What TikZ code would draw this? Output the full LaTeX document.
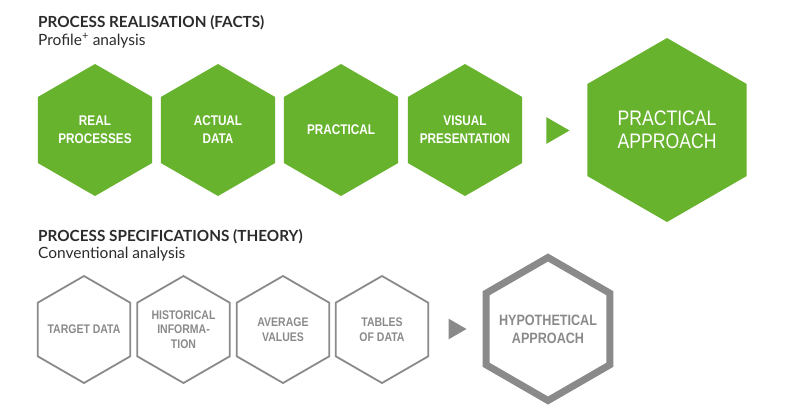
\documentclass[tikz,border=0pt]{standalone}
\usepackage{fontspec}
\setmainfont{Lato}
\newfontfamily\hexfont[FakeStretch=0.84]{Liberation Sans}
\usepackage{tikz}
\usetikzlibrary{shapes.geometric}
\definecolor{factgreen}{HTML}{67B32E}
\definecolor{theorygray}{HTML}{8A8A8A}
\definecolor{headgray}{HTML}{2B2B2B}

\begin{document}
\begin{tikzpicture}[
  x=1pt, y=-1pt,
  every node/.style={inner sep=0pt},
  heading/.style={anchor=base west, text=headgray,
    font=\fontsize{15.3}{17}\selectfont\bfseries},
  subheading/.style={anchor=base west, text=headgray,
    font=\fontsize{15.5}{17}\selectfont},
  hexbase/.style={regular polygon, regular polygon sides=6,
    shape border rotate=30, align=center, inner sep=-25pt},
  facthex/.style={hexbase, fill=factgreen, text=white, minimum size=132pt,
    font=\hexfont\fontsize{14}{18}\selectfont\bfseries},
  bigfacthex/.style={hexbase, fill=factgreen, text=white, minimum size=184pt,
    font=\hexfont\fontsize{21}{23}\selectfont},
  theoryhex/.style={hexbase, draw=theorygray, line width=1.8pt,
    text=theorygray, minimum size=107pt,
    font=\hexfont\fontsize{12.5}{14.5}\selectfont\bfseries},
  bigtheoryhex/.style={hexbase, draw=theorygray, line width=7pt,
    text=theorygray, minimum size=143pt,
    font=\hexfont\fontsize{15}{18}\selectfont\bfseries},
  pointer/.style={regular polygon, regular polygon sides=3,
    shape border rotate=-90}
]
  \useasboundingbox (0,0) rectangle (800,416);

  % Facts: profile+ analysis
  \node[heading] (factshead) at (38,27) {PROCESS REALISATION (FACTS)};
  \node[subheading] (factssub) at (38,45) {Profile\textsuperscript{+} analysis};

  \node[facthex] (real) at (95,130) {REAL\\PROCESSES};
  \node[facthex] (actual) at (218,130) {ACTUAL\\DATA};
  \node[facthex] (practical) at (341,130) {PRACTICAL};
  \node[facthex] (visual) at (465,130) {VISUAL\\PRESENTATION};
  \node[pointer, fill=factgreen, minimum size=31pt] (factarrow) at (554,130.5) {};
  \node[bigfacthex] (practicalapp) at (667,130) {PRACTICAL\\APPROACH};

  % Theory: conventional analysis
  \node[heading] (theoryhead) at (38,241) {PROCESS SPECIFICATIONS (THEORY)};
  \node[subheading] (theorysub) at (38,258) {Conventional analysis};

  \node[theoryhex] (target) at (84,329.5) {TARGET DATA};
  \node[theoryhex] (historical) at (183.5,329.5) {HISTORICAL\\INFORMA-\\TION};
  \node[theoryhex] (average) at (283,329.5) {AVERAGE\\VALUES};
  \node[theoryhex] (tables) at (382,329.5) {TABLES\\OF DATA};
  \node[pointer, fill=theorygray, minimum size=24pt] (theoryarrow) at (454.5,329) {};
  \node[bigtheoryhex] (hypothetical) at (548,329) {HYPOTHETICAL\\APPROACH};
\end{tikzpicture}
\end{document}
